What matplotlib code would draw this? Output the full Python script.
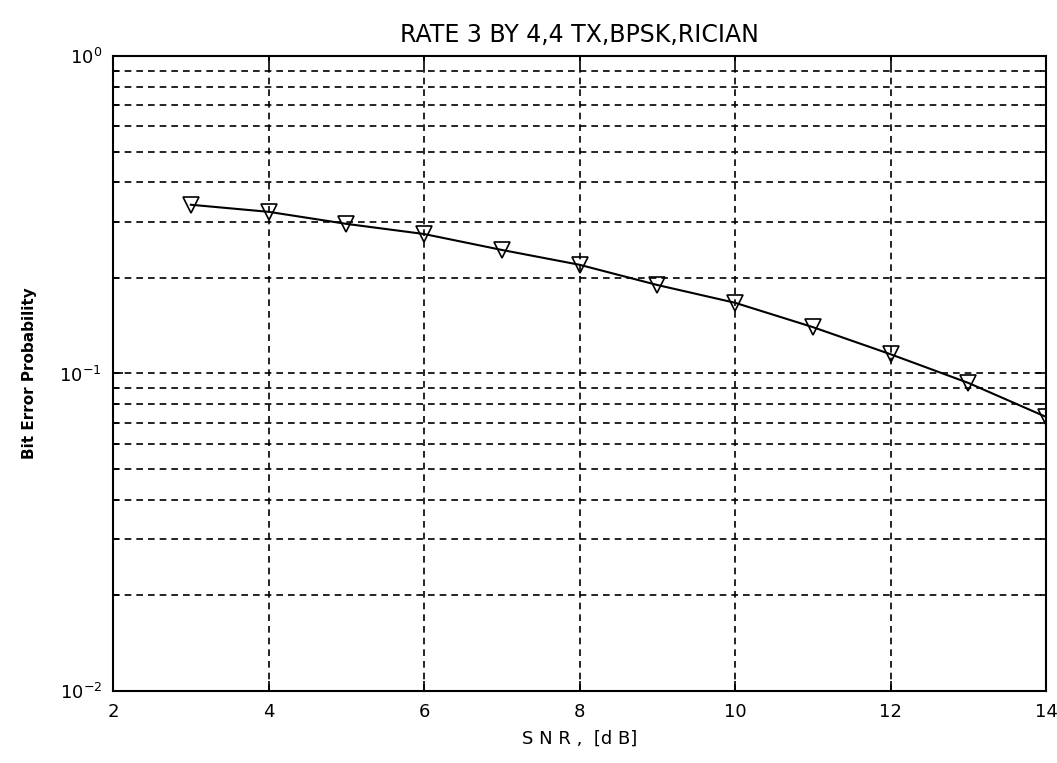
import numpy as np
import matplotlib
matplotlib.use("Agg")
import matplotlib.pyplot as plt
from matplotlib.ticker import LogLocator, NullFormatter, FixedLocator

# SNR sweep and measured bit error probability
snr_db = [3, 4, 5, 6, 7, 8, 9, 10, 11, 12, 13, 14]
ber = [0.340, 0.323, 0.296, 0.275, 0.245, 0.220, 0.190, 0.167, 0.140, 0.115, 0.0934, 0.073]

x_ticks = [2, 4, 6, 8, 10, 12, 14]
y_ticks = [1e-2, 1e-1, 1e0]
y_tick_labels = [r"$10^{-2}$", r"$10^{-1}$", r"$10^{0}$"]

plt.rcParams["font.family"] = ["Liberation Sans Narrow", "DejaVu Sans"]

fig = plt.figure(figsize=(10.57, 7.63), dpi=100)
ax = fig.add_axes([0.107, 0.0944, 0.8826, 0.8322])

ax.semilogy(snr_db, ber, color="black", linewidth=1.5, marker="v",
            markersize=11, markerfacecolor="none", markeredgecolor="black",
            markeredgewidth=1.2)

ax.set_xlim(2, 14)
ax.set_ylim(1e-2, 1e0)
ax.set_xticks(x_ticks)
ax.set_xticklabels([str(t) for t in x_ticks], fontsize=13)
ax.yaxis.set_major_locator(FixedLocator(y_ticks))
ax.set_yticklabels(y_tick_labels, fontsize=13)
ax.yaxis.set_minor_locator(LogLocator(base=10, subs=np.arange(2, 10)))
ax.yaxis.set_minor_formatter(NullFormatter())

# matlab-style inward ticks on all four sides
ax.tick_params(which="both", direction="in", top=True, right=True, colors="black")
ax.tick_params(which="major", length=7, width=1.2)
ax.tick_params(which="minor", length=4, width=1.2)
ax.tick_params(axis="x", pad=9)
ax.tick_params(axis="y", pad=8)

ax.grid(True, which="major", axis="x", linestyle=(0, (4, 3)), color="black", linewidth=1.2)
ax.grid(True, which="both", axis="y", linestyle=(0, (4, 3)), color="black", linewidth=1.2)

for spine in ax.spines.values():
    spine.set_linewidth(1.5)

ax.set_title("RATE 3 BY 4,4 TX,BPSK,RICIAN", fontsize=17, pad=10)
ax.set_xlabel("S N R ,  [d B]", fontsize=13, labelpad=6)
ax.set_ylabel("Bit Error Probability", fontsize=11, fontweight="bold",
              family=["DejaVu Sans"], labelpad=16)

fig.savefig("out.png", dpi=100)
